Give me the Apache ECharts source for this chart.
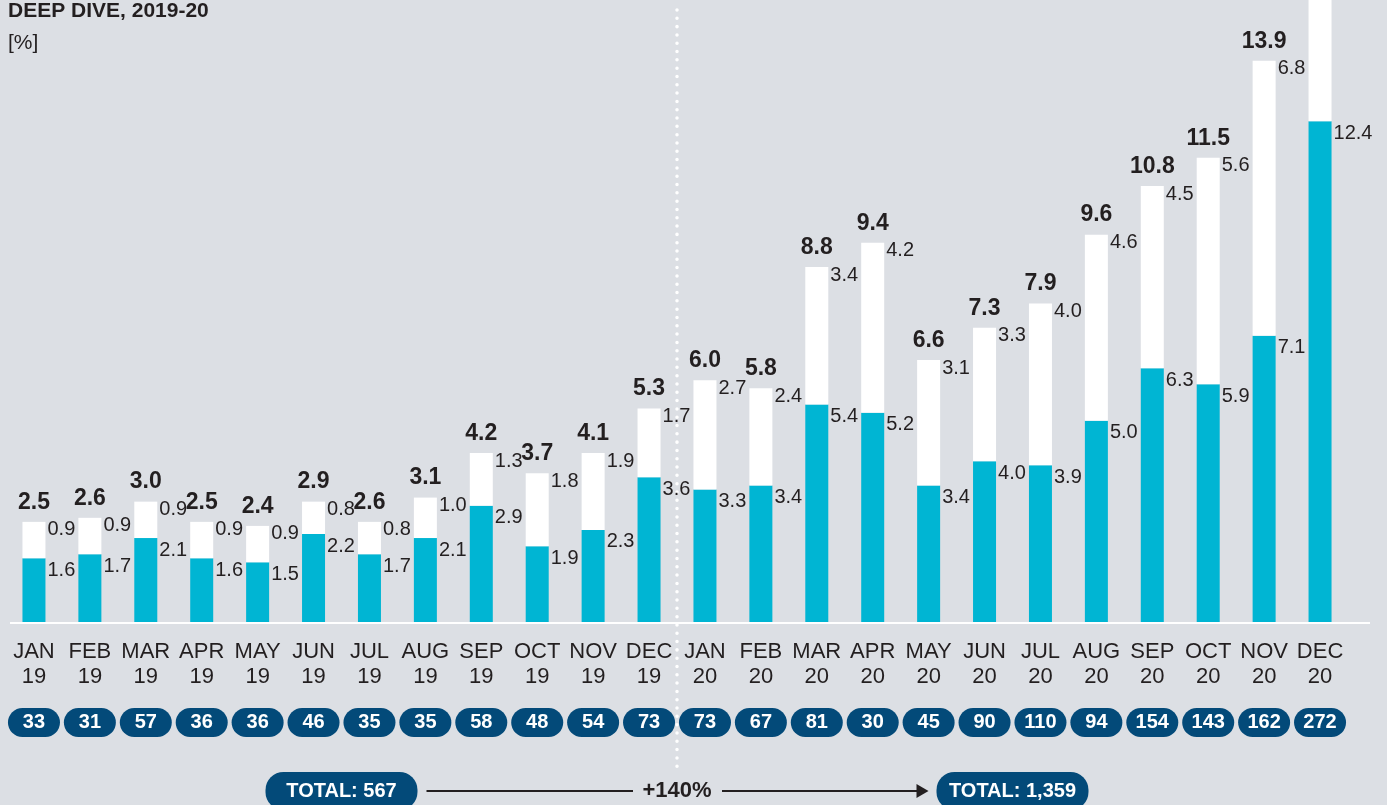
<!DOCTYPE html>
<html>
<head>
<meta charset="utf-8">
<script src="https://cdn.jsdelivr.net/npm/echarts@6/dist/echarts.min.js"></script>
<style>
  html, body { margin: 0; padding: 0; background: #dcdfe4; }
  #chart { width: 1387px; height: 805px; }
</style>
</head>
<body>
<div id="chart"></div>
<script>
const months = ['JAN', 'FEB', 'MAR', 'APR', 'MAY', 'JUN', 'JUL', 'AUG', 'SEP', 'OCT', 'NOV', 'DEC'];
const years = ['19', '20'];
const categories = years.flatMap(y => months.map(m => m + '\n' + y));

// teal part (bottom) and white part (top) of each bar, in %
const tealValues = [1.6, 1.7, 2.1, 1.6, 1.5, 2.2, 1.7, 2.1, 2.9, 1.9, 2.3, 3.6,
  3.3, 3.4, 5.4, 5.2, 3.4, 4.0, 3.9, 5.0, 6.3, 5.9, 7.1, 12.4];
const whiteValues = [0.9, 0.9, 0.9, 0.9, 0.9, 0.8, 0.8, 1.0, 1.3, 1.8, 1.9, 1.7,
  2.7, 2.4, 3.4, 4.2, 3.1, 3.3, 4.0, 4.6, 4.5, 5.6, 6.8, 7.6];
const totals = [2.5, 2.6, 3.0, 2.5, 2.4, 2.9, 2.6, 3.1, 4.2, 3.7, 4.1, 5.3,
  6.0, 5.8, 8.8, 9.4, 6.6, 7.3, 7.9, 9.6, 10.8, 11.5, 13.9, null];
const counts = [33, 31, 57, 36, 36, 46, 35, 35, 58, 48, 54, 73,
  73, 67, 81, 30, 45, 90, 110, 94, 154, 143, 162, 272];

const totalTexts = ['TOTAL: 567', 'TOTAL: 1,359'];
const growthText = '+140%';

const TEAL = '#00b5d3';
const NAVY = '#034a79';
const INK = '#231f20';
const SANS = "'Liberation Sans', Arial, sans-serif";
const lastIdx = categories.length - 1;

const valueLabel = (dy) => ({
  show: true,
  position: ['100%', 0],
  align: 'left',
  verticalAlign: 'top',
  offset: [2, dy],
  color: INK,
  fontFamily: SANS,
  fontSize: 20,
  formatter: p => p.value.toFixed(1)
});

const chart = echarts.init(document.getElementById('chart'));

chart.setOption({
  backgroundColor: '#dcdfe4',
  animation: false,
  title: {
    text: 'DEEP DIVE, 2019-20',
    subtext: '[%]',
    left: 3,
    top: -4,
    itemGap: 11,
    textStyle: { fontFamily: SANS, fontSize: 21, fontWeight: 'bold', color: INK },
    subtextStyle: { fontFamily: SANS, fontSize: 21, color: INK }
  },
  grid: { left: 6, right: 39, top: 0, bottom: 182 },
  xAxis: [
    {
      type: 'category',
      data: categories,
      axisLine: { show: false },
      axisTick: { show: false },
      axisLabel: {
        interval: 0,
        margin: 16,
        color: INK,
        fontFamily: SANS,
        fontSize: 22,
        lineHeight: 25
      }
    },
    {
      type: 'category',
      data: categories,
      position: 'bottom',
      offset: 85,
      axisLine: { show: false },
      axisTick: { show: false },
      axisLabel: {
        interval: 0,
        margin: 0,
        formatter: (v, i) => '{p|' + counts[i] + '}',
        rich: {
          p: {
            width: 52,
            height: 29,
            lineHeight: 29,
            align: 'center',
            backgroundColor: NAVY,
            borderRadius: 15,
            color: '#ffffff',
            fontFamily: SANS,
            fontWeight: 'bold',
            fontSize: 20
          }
        }
      }
    }
  ],
  yAxis: {
    type: 'value',
    min: 0,
    max: 15.4,
    show: false,
    splitLine: { show: false }
  },
  series: [
    {
      name: 'teal',
      type: 'bar',
      stack: 'a',
      barWidth: 23,
      itemStyle: { color: TEAL },
      label: valueLabel(2),
      data: tealValues
    },
    {
      name: 'white',
      type: 'bar',
      stack: 'a',
      barWidth: 23,
      itemStyle: { color: '#ffffff' },
      label: valueLabel(-2),
      data: whiteValues.map((v, i) => i === lastIdx ? { value: v, label: { show: false } } : v)
    },
    {
      name: 'total',
      type: 'bar',
      stack: 'a',
      barWidth: 23,
      itemStyle: { color: 'transparent' },
      label: {
        show: true,
        position: 'top',
        distance: 8,
        color: INK,
        fontFamily: SANS,
        fontWeight: 'bold',
        fontSize: 23,
        formatter: p => totals[p.dataIndex] == null ? '' : totals[p.dataIndex].toFixed(1)
      },
      data: totals.map(() => 0)
    }
  ]
});

// annotations placed from the category positions
const px = i => chart.convertToPixel({ xAxisIndex: 0 }, i);
const baseY = chart.convertToPixel({ yAxisIndex: 0 }, 0);
const divX = (px(11) + px(12)) / 2;
const leftC = (px(5) + px(6)) / 2;
const rightC = (px(17) + px(18)) / 2;
const pillW = 152, pillH = 38, pillY = 772, lineY = 791;

const pill = (cx, text) => ({
  type: 'group',
  children: [
    {
      type: 'rect',
      shape: { x: cx - pillW / 2, y: pillY, width: pillW, height: pillH, r: 18 },
      style: { fill: NAVY }
    },
    {
      type: 'text',
      x: cx, y: lineY,
      style: {
        text: text, fill: '#ffffff', align: 'center', verticalAlign: 'middle',
        font: 'bold 20px ' + SANS
      }
    }
  ]
});

chart.setOption({
  graphic: [
    {
      type: 'line',
      shape: { x1: 10, y1: baseY, x2: 1370, y2: baseY },
      style: { stroke: '#ffffff', lineWidth: 2 },
      z: 5
    },
    {
      type: 'line',
      shape: { x1: divX, y1: 10, x2: divX, y2: 772 },
      style: { stroke: '#ffffff', lineWidth: 3.5, lineDash: [0.01, 8.3], lineCap: 'round' },
      z: 1
    },
    pill(leftC, totalTexts[0]),
    pill(rightC, totalTexts[1]),
    {
      type: 'line',
      shape: { x1: leftC + pillW / 2 + 9, y1: lineY, x2: divX - 44, y2: lineY },
      style: { stroke: INK, lineWidth: 2 }
    },
    {
      type: 'text',
      x: divX, y: lineY,
      style: {
        text: growthText, fill: INK, align: 'center', verticalAlign: 'middle',
        font: 'bold 22px ' + SANS
      }
    },
    {
      type: 'line',
      shape: { x1: divX + 45, y1: lineY, x2: rightC - pillW / 2 - 14, y2: lineY },
      style: { stroke: INK, lineWidth: 2 }
    },
    {
      type: 'polygon',
      shape: {
        points: [
          [rightC - pillW / 2 - 20, lineY - 7],
          [rightC - pillW / 2 - 8, lineY],
          [rightC - pillW / 2 - 20, lineY + 7]
        ]
      },
      style: { fill: INK }
    }
  ]
});
</script>
</body>
</html>
